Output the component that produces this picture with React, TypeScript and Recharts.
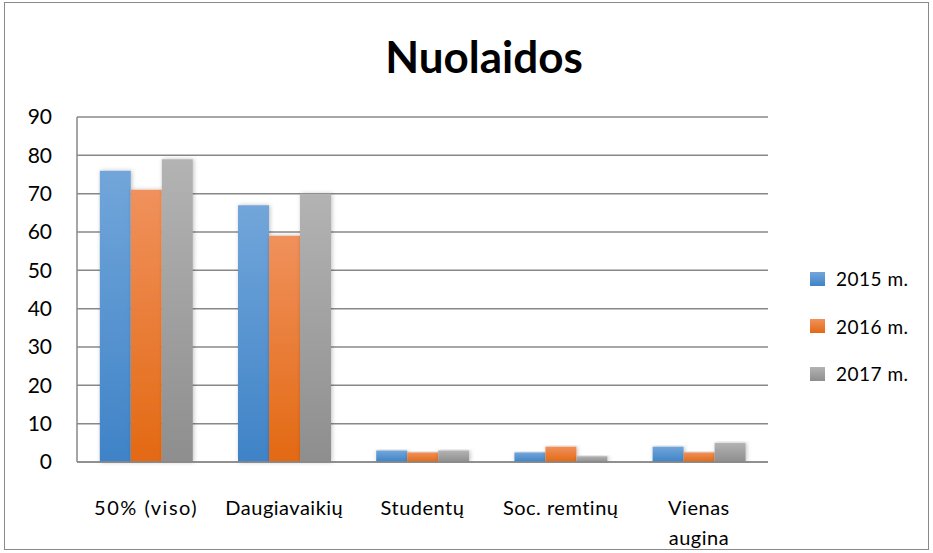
import React from "react";
import { BarChart, Bar, XAxis, YAxis, CartesianGrid } from "recharts";

const categories = ["50% (viso)", "Daugiavaikių", "Studentų", "Soc. remtinų", "Vienas augina"];
const values2015 = [76, 67, 3, 2.5, 4];
const values2016 = [71, 59, 2.5, 4, 2.5];
const values2017 = [79, 70, 3, 1.5, 5];
const seriesNames = ["2015 m.", "2016 m.", "2017 m."];
const yTicks = [0, 10, 20, 30, 40, 50, 60, 70, 80, 90];
const title = "Nuolaidos";

const data = categories.map((c, i) => ({
  name: c,
  s2015: values2015[i],
  s2016: values2016[i],
  s2017: values2017[i],
}));

const FONT = "Lato, 'Open Sans', sans-serif";

const gradients = [
  { id: "gBlue", top: "#72a6da", bottom: "#3f83c7" },
  { id: "gOrange", top: "#f0915c", bottom: "#e36913" },
  { id: "gGray", top: "#b3b3b3", bottom: "#8e8e8e" },
];

const XTick = (props: any) => {
  const { x, y, payload } = props;
  const label: string = payload.value;
  const lines = label === "Vienas augina" ? ["Vienas", "augina"] : [label];
  return (
    <g transform={`translate(${x},${y})`}>
      {lines.map((l, i) => (
        <text
          key={i}
          x={0}
          y={45 + i * 30}
          textAnchor="middle"
          fontSize={20}
          fontFamily={FONT}
          fill="#000"
          style={{ letterSpacing: l === "50% (viso)" ? "1.5px" : "0.5px" }}
        >
          {l}
        </text>
      ))}
    </g>
  );
};

export default function App() {
  const keys = ["s2015", "s2016", "s2017"];
  return (
    <div
      style={{
        position: "fixed",
        left: 0,
        top: 0,
        width: 933,
        height: 553,
        background: "#fff",
        fontFamily: FONT,
      }}
    >
      <div
        style={{
          position: "absolute",
          left: 4,
          top: 2,
          width: 925,
          height: 548,
          border: "1.5px solid #8a8a8a",
          boxSizing: "border-box",
        }}
      />
      <div
        style={{
          position: "absolute",
          left: 0,
          width: 968,
          top: 30,
          textAlign: "center",
          fontSize: 44,
          fontWeight: 700,
          color: "#000",
          lineHeight: "52px",
        }}
      >
        {title}
      </div>
      <div style={{ position: "absolute", left: 0, top: 0 }}>
        <BarChart
          width={933}
          height={553}
          data={data}
          margin={{ top: 117, right: 165, bottom: 1, left: 17 }}
          barCategoryGap="16.5%"
          barGap={0}
        >
          <defs>
            {gradients.map((g) => (
              <linearGradient key={g.id} id={g.id} x1="0" y1="0" x2="0" y2="1">
                <stop offset="0%" stopColor={g.top} />
                <stop offset="100%" stopColor={g.bottom} />
              </linearGradient>
            ))}
            <filter id="shadow" x="-20%" y="-5%" width="140%" height="110%">
              <feDropShadow dx="1" dy="0" stdDeviation="2" floodColor="#000" floodOpacity="0.25" />
            </filter>
          </defs>
          <CartesianGrid vertical={false} stroke="#888888" strokeWidth={1.5} />
          <XAxis
            dataKey="name"
            tickLine={false}
            axisLine={{ stroke: "#888888", strokeWidth: 1.5 }}
            tick={<XTick />}
            height={90}
            interval={0}
          />
          <YAxis
            domain={[0, 90]}
            ticks={yTicks}
            width={60}
            tickLine={false}
            axisLine={{ stroke: "#888888", strokeWidth: 1.5 }}
            tick={{ fontSize: 21, fontFamily: FONT, fill: "#000" }}
            tickMargin={19}
          />
          {keys.map((k, i) => (
            <Bar
              key={k}
              dataKey={k}
              name={seriesNames[i]}
              fill={`url(#${gradients[i].id})`}
              isAnimationActive={false}
              style={{ filter: "url(#shadow)" }}
            />
          ))}
        </BarChart>
      </div>
      {seriesNames.map((n, i) => (
        <div
          key={n}
          style={{
            position: "absolute",
            left: 810,
            top: 267 + i * 47.5,
            display: "flex",
            alignItems: "center",
            fontSize: 19,
            color: "#000",
          }}
        >
          <div
            style={{
              width: 15,
              height: 14,
              background: `linear-gradient(${gradients[i].top}, ${gradients[i].bottom})`,
              marginRight: 11,
            }}
          />
          <span style={{ letterSpacing: "0.5px" }}>{n}</span>
        </div>
      ))}
    </div>
  );
}
